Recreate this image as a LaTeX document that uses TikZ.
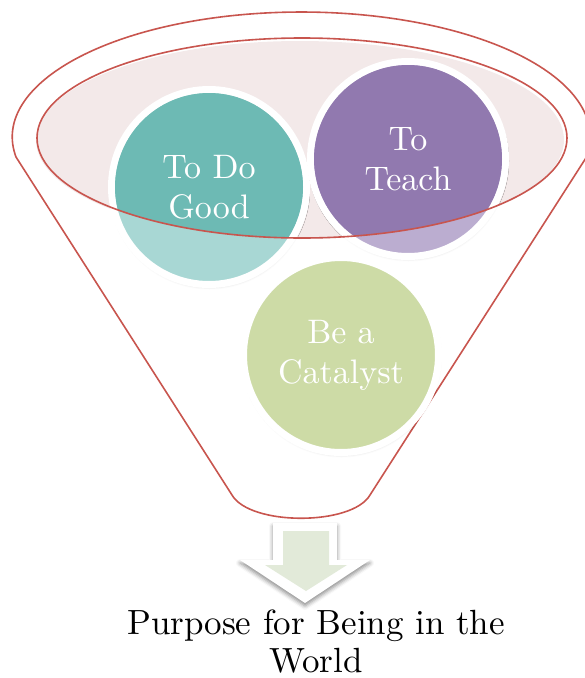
\documentclass[tikz,border=0pt]{standalone}
\usepackage{fontspec}
\setmainfont{lmroman10-regular.otf}
\usepackage{tikz}
\usetikzlibrary{shadows.blur}
\definecolor{funnelred}{RGB}{200,85,78}
\definecolor{funnelpink}{RGB}{243,233,233}
\definecolor{tealD}{RGB}{109,186,180}
\definecolor{tealL}{RGB}{168,215,212}
\definecolor{purpD}{RGB}{145,121,175}
\definecolor{purpL}{RGB}{187,173,208}
\definecolor{leaf}{RGB}{205,219,166}
\definecolor{arrowgreen}{RGB}{226,234,217}

\begin{document}
\begin{tikzpicture}[x=1pt, y=1pt, yscale=-1,
        bubble/.style={circle, minimum size=195pt, inner sep=0pt, draw=white, line width=7pt,
            blur shadow={shadow xshift=0.5pt, shadow yshift=-2pt, shadow blur radius=3pt, shadow opacity=25}},
        bubbletext/.style={text=white, align=center, font=\fontsize{34}{40}\selectfont, inner sep=0pt},
        rim/.style={draw=funnelred, line width=1.6pt}]
    \useasboundingbox (0,0) rectangle (585,678);
    % funnel: top rim, sides and rounded spout
    \draw[rim, line join=round] (16,157) arc[start angle=170.8, end angle=369.2, x radius=289pt, y radius=125pt] -- (370,495) .. controls (352,526) and (250,526) .. (232,495) -- cycle;
    \fill[funnelpink] (300,140) ellipse [x radius=264pt, y radius=99pt];

    \node[bubble, fill=tealL] (good) at (209,187) {};
    \node[bubble, fill=purpL] (teach) at (408,159) {};
    \node[bubble, fill=leaf] (catalyst) at (341,355) {};
    % darker where the bubbles sit inside the mouth
    \begin{scope}
        \clip (302,138) ellipse [x radius=265pt, y radius=100pt];
        \fill[tealD] (good) circle[radius=94pt]; \fill[purpD] (teach) circle[radius=94pt];
    \end{scope}
    \node[bubbletext] (goodlabel) at (good) {To Do\\Good};
    \node[bubbletext] (teachlabel) at (teach) {To\\Teach};
    \node[bubbletext] (catalystlabel) at (catalyst) {Be a\\Catalyst};
    \draw[rim] (302,138) ellipse [x radius=265pt, y radius=100pt];

    % down arrow
    \fill[white, blur shadow={shadow xshift=0pt, shadow yshift=-3pt, shadow blur radius=4pt, shadow opacity=45}] (273,523) -- (337,523) -- (337,560) -- (370,560) -- (305,603) -- (240,560) -- (273,560) -- cycle;
    \fill[arrowgreen] (283,531) -- (329,531) -- (329,565) -- (347,565) -- (306,591) -- (265,565) -- (283,565) -- cycle;
    \node[align=center, font=\fontsize{35}{38}\selectfont, inner sep=0pt] (purpose) at (316,641.5) {Purpose for Being in the\\World};
\end{tikzpicture}
\end{document}
